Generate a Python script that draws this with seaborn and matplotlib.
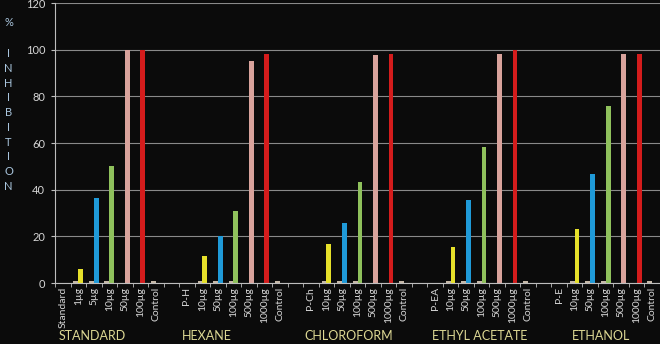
import matplotlib
matplotlib.use("Agg")
import matplotlib.pyplot as plt
import matplotlib.transforms as mtransforms
import seaborn as sns
import pandas as pd

groups = ["STANDARD", "HEXANE", "CHLOROFORM", "ETHYL ACETATE", "ETHANOL"]
group_ticks = [
    ["Standard", "1µg", "5µg", "10µg", "50µg", "100µg", "Control"],
    ["P-H", "10µg", "50µg", "100µg", "500µg", "1000µg", "Control"],
    ["P-Ch", "10µg", "50µg", "100µg", "500µg", "1000µg", "Control"],
    ["P-EA", "10µg", "50µg", "100µg", "500µg", "1000µg", "Control"],
    ["P-E", "10µg", "50µg", "100µg", "500µg", "1000µg", "Control"],
]
standard_vals = [0, 6, 36.6, 50.3, 100, 100, 0]
hexane_vals = [0, 11.7, 20.3, 30.9, 95, 98, 0]
chloroform_vals = [0, 16.7, 25.6, 43.4, 97.5, 98, 0]
ethyl_vals = [0, 15.6, 35.6, 58.4, 98, 100, 0]
ethanol_vals = [0, 23.1, 46.7, 76, 98, 98, 0]
base_vals = [0, 0.8, 0.8, 0.8, 0, 0, 1.0]
y_ticks = [0, 20, 40, 60, 80, 100, 120]

main_vals = [standard_vals, hexane_vals, chloroform_vals, ethyl_vals, ethanol_vals]
bar_colors = ["#000000", "#e6e02a", "#1f9ad8", "#8fc15c", "#d9a39c", "#d41c1c", "#000000"]
base_color = "#cbb9a2"
bg = "#0b0b0b"

# build long table, with an empty slot between groups
rows, slots, tick_labels, slot_color = [], [], [], {}
for g, (grp, ticks) in enumerate(zip(groups, group_ticks)):
    if g > 0:
        slots.append(f"gap{g}")
        tick_labels.append("")
    for k, lab in enumerate(ticks):
        slot = f"{grp}|{lab}"
        slots.append(slot)
        tick_labels.append(lab)
        slot_color[len(slots) - 1] = bar_colors[k]
        rows.append({"slot": slot, "series": "base", "value": base_vals[k]})
        rows.append({"slot": slot, "series": "main", "value": main_vals[g][k]})
df = pd.DataFrame(rows)

plt.rcParams["font.family"] = ["Lato", "DejaVu Sans"]
f, ax = plt.subplots(figsize=(6.6, 3.44), dpi=100)
f.set_facecolor(bg)
ax.set_facecolor(bg)
f.subplots_adjust(left=55 / 660, right=1.0, top=1 - 3 / 344, bottom=1 - 283 / 344)

sns.barplot(data=df, x="slot", y="value", hue="series", order=slots,
            hue_order=["base", "main"], palette=[base_color, "#ffffff"],
            dodge=True, width=0.62, linewidth=0, legend=False, ax=ax)

# colour each main bar by its position inside the group
for bar in ax.containers[1]:
    idx = int(round(bar.get_x() + bar.get_width() / 2))
    bar.set_facecolor(slot_color.get(idx, "#ffffff"))

ax.set_ylim(0, 120)
ax.set_xlim(-0.5, len(slots) - 0.5)
ax.set_yticks(y_ticks)
ax.yaxis.grid(True, color="#8a8a8a", linewidth=0.8)
ax.set_axisbelow(True)
ax.spines[["right", "top"]].set_visible(False)
ax.spines[["left", "bottom"]].set_color("#bdbdbd")
ax.spines[["left", "bottom"]].set_linewidth(0.8)

ax.set_xticks(range(len(slots)), labels=tick_labels, rotation=90)
ax.set_xticks([i - 0.5 for i in range(len(slots) + 1)], minor=True)
ax.tick_params(axis="x", which="major", length=0, labelsize=7.5,
               labelcolor="#d6d6d6", pad=3)
ax.tick_params(axis="x", which="minor", length=3, color="#bdbdbd")
ax.tick_params(axis="y", length=3, color="#bdbdbd", labelsize=8,
               labelcolor="#d6d6d6", pad=4)
ax.set_xlabel("")
ax.set_ylabel("")

# group names under the tick labels
group_x = [1.9, 9.3, 18.4, 26.9, 34.7]
trans = mtransforms.blended_transform_factory(ax.transData, ax.transAxes)
for grp, gx in zip(groups, group_x):
    ax.text(gx, -0.19, grp, transform=trans, ha="center", va="center",
            fontsize=9, color="#ddd894")

# stacked y axis title
f.text(0.013, 1 - 23 / 344, "%", ha="center", va="center",
       fontsize=8, color="#a9c5dd")
f.text(0.013, 1 - 120 / 344, "\n".join("INHIBITION"), ha="center",
       va="center", fontsize=8, color="#a9c5dd", linespacing=1.42)

plt.savefig("out.png", facecolor=bg)
